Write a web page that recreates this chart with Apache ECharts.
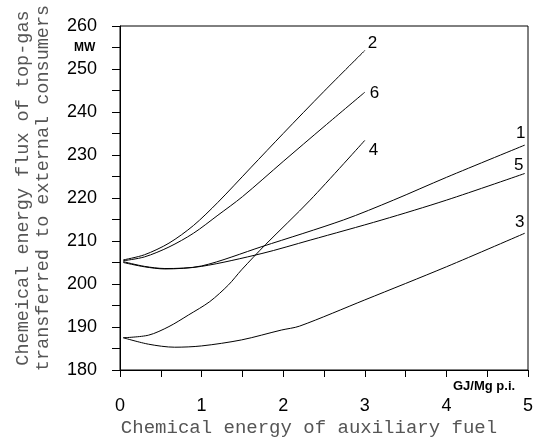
<!DOCTYPE html>
<html>
<head>
<meta charset="utf-8">
<script src="https://cdn.jsdelivr.net/npm/echarts@6/dist/echarts.min.js"></script>
<style>
  html, body { margin: 0; padding: 0; background: #fff; }
  #main { width: 535px; height: 441px; }
</style>
</head>
<body>
<div id="main"></div>
<script>
// curve data: [auxiliary fuel GJ/Mg p.i., MW]
const curve1 = [[0.04, 205.2], [0.3, 204.1], [0.55, 203.6], [1.0, 204.2], [1.74, 208.7], [2.74, 214.9], [3.35, 219.5], [4.0, 224.8], [4.96, 232.3]]
const curve2 = [[0.04, 205.6], [0.3, 206.8], [0.6, 209.5], [0.9, 213.6], [1.2, 219.0], [1.6, 227.0], [2.0, 235.0], [2.5, 244.8], [3.0, 254.3]]
const curve3 = [[0.04, 187.5], [0.35, 186.0], [0.67, 185.3], [1.0, 185.6], [1.49, 187.0], [1.98, 189.3], [2.2, 190.2], [3.0, 196.3], [4.0, 204.0], [4.96, 211.8]]
const curve4 = [[0.04, 187.5], [0.35, 188.1], [0.6, 190.1], [0.84, 192.8], [1.1, 195.9], [1.33, 199.8], [1.49, 203.3], [1.78, 209.1], [2.33, 219.5], [3.0, 233.4]]
const curve5 = [[0.04, 205.0], [0.3, 204.0], [0.55, 203.5], [1.0, 204.1], [1.74, 207.1], [2.33, 210.2], [3.21, 214.9], [4.0, 219.5], [4.96, 225.7]]
const curve6 = [[0.04, 205.4], [0.3, 206.3], [0.6, 208.6], [0.9, 211.8], [1.2, 216.0], [1.5, 220.3], [2.0, 228.5], [2.5, 236.6], [3.0, 244.6]]

const curveNames = ['1', '2', '3', '4', '5', '6']
const curveData = [curve1, curve2, curve3, curve4, curve5, curve6]
// where the curve number sits relative to the curve end
const labelOffsets = {
  '1': [-4, -12], '2': [3, -7], '3': [-5, -11],
  '4': [4, 10], '5': [-6, -8], '6': [5, 1]
}
const labelAlign = { '1': 'center', '2': 'left', '3': 'center', '4': 'left', '5': 'center', '6': 'left' }

const yTicks = { min: 180, max: 260, interval: 10 }
const xTicks = { min: 0, max: 5, interval: 1 }

const chart = echarts.init(document.getElementById('main'))

const series = curveNames.map((name, i) => ({
  name: name,
  type: 'line',
  data: curveData[i],
  smooth: 0.3,
  showSymbol: false,
  symbol: 'none',
  lineStyle: { color: '#000', width: 1 },
  endLabel: {
    show: true,
    formatter: name,
    distance: 0,
    offset: labelOffsets[name],
    align: labelAlign[name],
    verticalAlign: 'middle',
    fontFamily: 'Liberation Sans',
    fontSize: 17,
    color: '#000'
  }
}))

const option = {
  animation: false,
  grid: {
    left: 120, right: 7, top: 26, bottom: 71,
    outerBoundsMode: 'none',
    containLabel: false,
    show: true, borderColor: '#000', borderWidth: 1
  },
  xAxis: {
    type: 'value',
    min: xTicks.min, max: xTicks.max, interval: xTicks.interval,
    name: 'Chemical energy of auxiliary fuel',
    nameLocation: 'middle',
    nameMoveOverlap: false,
    nameGap: 48,
    nameTextStyle: {
      fontFamily: 'Liberation Mono', fontSize: 19, color: '#555',
      padding: [0, 30, 0, 0]
    },
    axisLine: { lineStyle: { color: '#000', width: 1 } },
    axisTick: { length: 7, lineStyle: { color: '#000' } },
    minorTick: { show: true, splitNumber: 2, length: 7, lineStyle: { color: '#000' } },
    splitLine: { show: false },
    axisLabel: { margin: 27, fontFamily: 'Liberation Sans', fontSize: 18, color: '#000' }
  },
  yAxis: {
    type: 'value',
    min: yTicks.min, max: yTicks.max, interval: yTicks.interval,
    name: 'Chemeical energy flux of top-gas\ntransferred to external consumers',
    nameLocation: 'middle',
    nameMoveOverlap: false,
    nameGap: 67,
    nameTextStyle: {
      fontFamily: 'Liberation Mono', fontSize: 18.5, color: '#555',
      lineHeight: 20, padding: [0, 0, 0, 20]
    },
    axisLine: { show: true, lineStyle: { color: '#000', width: 1 } },
    axisTick: { length: 8, lineStyle: { color: '#000' } },
    minorTick: { show: true, splitNumber: 2, length: 8, lineStyle: { color: '#000' } },
    splitLine: { show: false },
    axisLabel: { margin: 23, fontFamily: 'Liberation Sans', fontSize: 18, color: '#000' }
  },
  graphic: [
    {
      type: 'text', left: 74, top: 42,
      style: { text: 'MW', fontFamily: 'Liberation Sans', fontWeight: 'bold', fontSize: 12, fill: '#000' }
    },
    {
      type: 'text', left: 453, top: 380,
      style: { text: 'GJ/Mg p.i.', fontFamily: 'Liberation Sans', fontWeight: 'bold', fontSize: 13, fill: '#000' }
    }
  ],
  series: series
}

chart.setOption(option)
</script>
</body>
</html>
